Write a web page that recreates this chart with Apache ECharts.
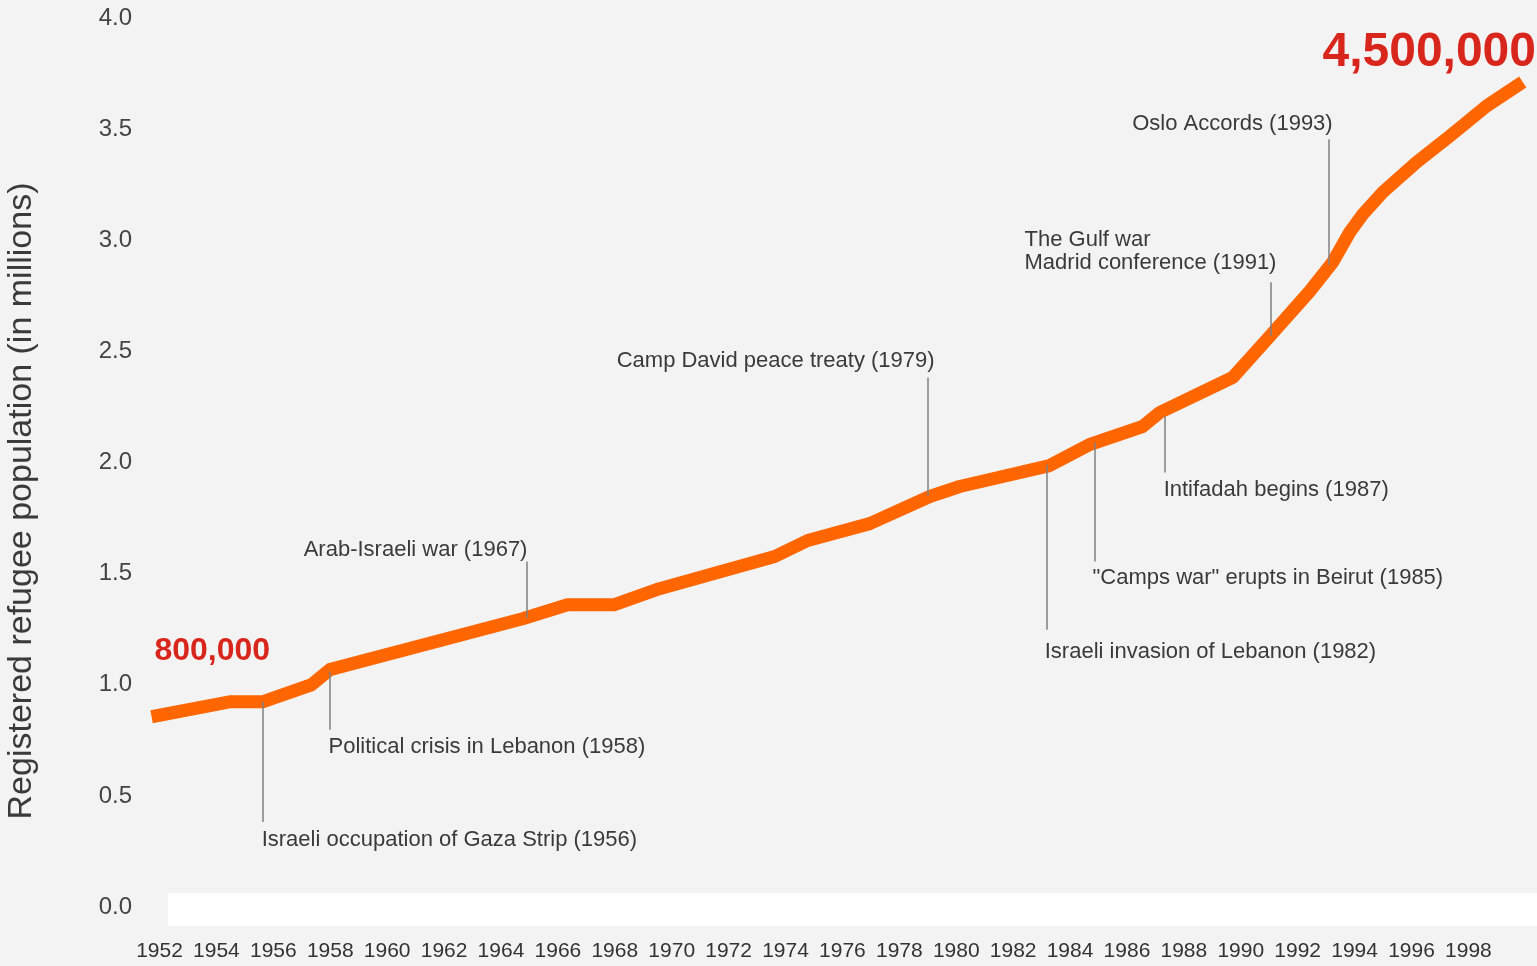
<!DOCTYPE html>
<html>
<head>
<meta charset="utf-8">
<title>Registered refugee population</title>
<script src="https://cdn.jsdelivr.net/npm/echarts@6/dist/echarts.min.js"></script>
<style>
  html, body { margin: 0; padding: 0; background: #f3f3f3; }
  #chart { width: 1537px; height: 966px; }
</style>
</head>
<body>
<div id="chart"></div>
<script>
// registered refugees in millions
var years = [1951.72, 1954.46, 1955.62, 1957.34, 1957.98, 1964.76, 1966.34, 1967.99, 1969.57, 1973.62,
  1974.78, 1976.96, 1979.07, 1980.12, 1983.28, 1984.69, 1986.55, 1987.15, 1988.55, 1989.72,
  1991.02, 1992.42, 1993.23, 1993.83, 1994.29, 1994.99, 1996.18, 1997.34, 1998.64, 1999.91];
var population = [0.856, 0.923, 0.923, 1.0, 1.068, 1.297, 1.36, 1.36, 1.432, 1.577,
  1.649, 1.725, 1.847, 1.892, 1.986, 2.081, 2.162, 2.225, 2.311, 2.383,
  2.568, 2.77, 2.901, 3.036, 3.117, 3.216, 3.351, 3.468, 3.604, 3.712];
var tickYears = [1952, 1954, 1956, 1958, 1960, 1962, 1964, 1966, 1968, 1970, 1972, 1974,
  1976, 1978, 1980, 1982, 1984, 1986, 1988, 1990, 1992, 1994, 1996, 1998];
var yTicks = [0, 0.5, 1, 1.5, 2, 2.5, 3, 3.5, 4];

// events
var eventTexts = [
  'Israeli occupation of Gaza Strip (1956)',
  'Political crisis in Lebanon (1958)',
  'Arab-Israeli war (1967)',
  'Camp David peace treaty (1979)',
  'Israeli invasion of Lebanon (1982)',
  '"Camps war" erupts in Beirut (1985)',
  'Intifadah begins (1987)',
  'The Gulf war\nMadrid conference (1991)',
  'Oslo Accords (1993)'
];
var eventYears = [1955.62, 1957.98, 1964.90, 1978.99, 1983.18, 1984.86, 1987.32, 1991.05, 1993.09];
var eventOnCurve = [0.923, 1.06, 1.30, 1.85, 1.99, 2.09, 2.21, 2.57, 2.89];
var eventLeaderEnd = [0.383, 0.797, 1.554, 2.383, 1.248, 1.554, 1.955, 2.811, 3.455];

// where each event text sits (data coords) and which side it hangs from
var eventLabelAt = [[1955.59, 0.302], [1957.94, 0.721], [1964.93, 1.608], [1979.24, 2.455],
  [1983.11, 1.149], [1984.79, 1.482], [1987.29, 1.878], [1982.40, 2.948], [1993.23, 3.523]];
var eventLabelAlign = ['left', 'left', 'right', 'right', 'left', 'left', 'left', 'left', 'right'];

var startText = '800,000';
var endText = '4,500,000';

var FONT = '"Liberation Sans", Arial, sans-serif';

var labelData = eventTexts.map(function (t, i) {
  return { name: t, value: eventLabelAt[i], label: { align: eventLabelAlign[i] } };
});
labelData.push({
  name: startText, value: [1951.82, 1.149],
  label: { align: 'left', color: '#d9261c', fontWeight: 'bold', fontSize: 32 }
});
labelData.push({
  name: endText, value: [2000.2, 3.842],
  label: { align: 'right', color: '#d9261c', fontWeight: 'bold', fontSize: 48, offset: [5, 0] }
});

var leaders = eventYears.map(function (y, i) {
  return [{ coord: [y, eventOnCurve[i]] }, { coord: [y, eventLeaderEnd[i]] }];
});

var chart = echarts.init(document.getElementById('chart'));
var option = {
  backgroundColor: '#f3f3f3',
  animation: false,
  grid: { left: 151, right: 6, top: 18, bottom: 59 },
  xAxis: {
    type: 'value',
    min: 1951.7,
    max: 2000.2,
    axisLine: { show: false },
    axisTick: { show: false },
    splitLine: { show: false },
    axisLabel: {
      customValues: tickYears,
      margin: 34,
      color: '#333',
      fontSize: 21,
      fontFamily: FONT,
      formatter: function (v) { return String(v); }
    }
  },
  yAxis: {
    type: 'value',
    min: 0,
    max: 4,
    axisLine: { show: false },
    axisTick: { show: false },
    splitLine: { show: false },
    axisLabel: {
      customValues: yTicks,
      margin: 19,
      color: '#444',
      fontSize: 24,
      fontFamily: FONT,
      formatter: function (v) { return v.toFixed(1); }
    }
  },
  graphic: [
    {
      type: 'rect',
      shape: { x: 168, y: 893, width: 1369, height: 33 },
      style: { fill: '#ffffff' },
      z: 0
    },
    {
      type: 'text',
      x: 22,
      y: 501,
      rotation: Math.PI / 2,
      style: {
        text: 'Registered refugee population (in millions)',
        font: '34px ' + FONT,
        fill: '#3a3a3a',
        align: 'center',
        verticalAlign: 'middle'
      }
    }
  ],
  series: [
    {
      type: 'scatter',
      symbolSize: 0,
      clip: false,
      silent: true,
      z: 2,
      itemStyle: { opacity: 1 },
      data: labelData,
      label: {
        show: true,
        position: 'inside',
        formatter: '{b}',
        color: '#3a3a3a',
        fontSize: 22,
        fontFamily: FONT,
        verticalAlign: 'middle',
        lineHeight: 23
      },
      markLine: {
        silent: true,
        symbol: ['none', 'none'],
        label: { show: false },
        lineStyle: { color: '#808080', width: 1.5, type: 'solid' },
        emphasis: { disabled: true },
        data: leaders
      }
    },
    {
      type: 'line',
      data: years.map(function (y, i) { return [y, population[i]]; }),
      showSymbol: false,
      symbol: 'none',
      clip: false,
      silent: true,
      z: 3,
      lineStyle: { color: '#ff6600', width: 13, cap: 'butt', join: 'round' }
    }
  ]
};
chart.setOption(option);
</script>
</body>
</html>
